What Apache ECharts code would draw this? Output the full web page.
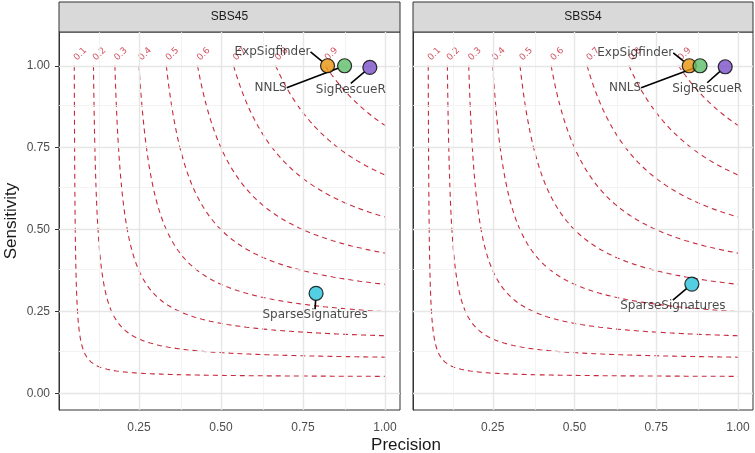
<!DOCTYPE html>
<html>
<head>
<meta charset="utf-8">
<script src="https://cdn.jsdelivr.net/npm/echarts@6/dist/echarts.min.js"></script>
<style>
  html, body { margin: 0; padding: 0; background: #fff; }
  #chart { width: 755px; height: 453px; }
</style>
</head>
<body>
<div id="chart"></div>
<script>
// data
var PANELS = ['SBS45', 'SBS54'];
var TOOLS = ['ExpSigfinder', 'NNLS', 'SigRescueR', 'SparseSignatures'];
var TOOL_COLORS = ['#E8920E', '#5DBE68', '#7B50C8', '#28C3D9'];
var PRECISION_SBS45 = [0.825, 0.877, 0.954, 0.790];
var SENSITIVITY_SBS45 = [1.000, 1.000, 0.995, 0.306];
var PRECISION_SBS54 = [0.851, 0.884, 0.961, 0.859];
var SENSITIVITY_SBS54 = [1.000, 1.000, 0.997, 0.334];
var F1_LEVELS = [0.1, 0.2, 0.3, 0.4, 0.5, 0.6, 0.7, 0.8, 0.9];
var X_BREAKS = [0.25, 0.50, 0.75, 1.00];
var X_MINOR = [0.125, 0.375, 0.625, 0.875];
var Y_BREAKS = [0.00, 0.25, 0.50, 0.75, 1.00];
var Y_MINOR = [0.125, 0.375, 0.625, 0.875];

// layout (pixels)
var GRIDS = [
    {left: 59, top: 32, width: 341, height: 378},
    {left: 413, top: 32, width: 340, height: 378}
];
// label offsets from the point, in px (ggrepel placement)
var LABEL_OFFSETS = [
    [[-55, -14], [-74, 22], [-19, 22], [-1, 22]],
    [[-54, -13], [-75, 22], [-18, 22], [-19, 22]]
];
var X_RANGE = [0.006, 1.046];
var Y_RANGE = [-0.05, 1.103];
var CURVE_COLOR = '#C62A3C';

var panelData = [
    {prec: PRECISION_SBS45, sens: SENSITIVITY_SBS45},
    {prec: PRECISION_SBS54, sens: SENSITIVITY_SBS54}
];

// iso-F1 line: F = 2PR/(P+R)  ->  R = F*P/(2P-F), from R=1 down to P=1
function isoF1(f){
    var pMin = f / (2 - f), pts = [], n = 300;
    for(var i = 0; i <= n; i++){
        var u = i / n;
        var p = pMin + (1 - pMin) * u * u * u;
        pts.push([p, f * p / (2 * p - f)]);
    }
    return pts;
}

function $each(arr, fn){ for(var i = 0; i < arr.length; i++){ fn(arr[i], i); } }

var chart = echarts.init(document.getElementById('chart'), null, {renderer: 'canvas'});

var xAxes = [], yAxes = [], series = [], graphics = [];

$each(GRIDS, function(g, pi){
    xAxes.push({
        type: 'value', gridIndex: pi, min: X_RANGE[0], max: X_RANGE[1],
        axisLine: {show: true, lineStyle: {color: '#333', width: 1}},
        axisTick: {show: true, length: 4, customValues: X_BREAKS, lineStyle: {color: '#333', width: 1}},
        axisLabel: {customValues: X_BREAKS, margin: 12, color: '#4D4D4D', fontSize: 12,
            fontFamily: 'Liberation Sans', formatter: function(v){ return v.toFixed(2); }},
        splitLine: {show: false}
    });
    yAxes.push({
        type: 'value', gridIndex: pi, min: Y_RANGE[0], max: Y_RANGE[1],
        name: pi === 0 ? 'Sensitivity' : '', nameLocation: 'middle', nameGap: 39,
        nameTextStyle: {fontSize: 17, color: '#1A1A1A', fontFamily: 'Liberation Sans'},
        axisLine: {show: true, lineStyle: {color: '#333', width: 1}},
        axisTick: {show: pi === 0, length: 4, customValues: Y_BREAKS, lineStyle: {color: '#333', width: 1}},
        axisLabel: {show: pi === 0, customValues: Y_BREAKS, margin: 9, color: '#4D4D4D', fontSize: 12,
            fontFamily: 'Liberation Sans', formatter: function(v){ return v.toFixed(2); }},
        splitLine: {show: false}
    });

    // grid lines
    var lines = [];
    X_MINOR.forEach(function(v){ lines.push({xAxis: v, lineStyle: {color: '#F0F0F0', width: 0.8, type: 'solid'}}); });
    Y_MINOR.forEach(function(v){ lines.push({yAxis: v, lineStyle: {color: '#F0F0F0', width: 0.8, type: 'solid'}}); });
    X_BREAKS.forEach(function(v){ lines.push({xAxis: v, lineStyle: {color: '#E6E6E6', width: 1.4, type: 'solid'}}); });
    Y_BREAKS.forEach(function(v){ lines.push({yAxis: v, lineStyle: {color: '#E6E6E6', width: 1.4, type: 'solid'}}); });
    series.push({
        type: 'line', xAxisIndex: pi, yAxisIndex: pi, data: [], z: 0, silent: true,
        markLine: {silent: true, symbol: ['none', 'none'], label: {show: false}, animation: false, data: lines}
    });

    // F1 contours
    F1_LEVELS.forEach(function(f){
        series.push({
            type: 'line', xAxisIndex: pi, yAxisIndex: pi, data: isoF1(f), z: 2,
            showSymbol: false, silent: true, animation: false,
            lineStyle: {color: CURVE_COLOR, width: 1.1, type: [5, 4]}
        });
    });
    series.push({
        type: 'scatter', xAxisIndex: pi, yAxisIndex: pi, symbolSize: 0, z: 3, silent: true,
        data: F1_LEVELS.map(function(f){ return [f / (2 - f), 1.02, f]; }),
        label: {show: true, position: 'right', distance: 1, rotate: 45,
            formatter: function(p){ return String(p.value[2]); },
            color: CURVE_COLOR, fontSize: 9, fontFamily: 'DejaVu Sans'}
    });

    // tool points
    var d = panelData[pi];
    series.push({
        type: 'scatter', xAxisIndex: pi, yAxisIndex: pi, z: 5, symbolSize: 14,
        data: TOOLS.map(function(t, i){
            return {value: [d.prec[i], d.sens[i]], name: t,
                itemStyle: {color: TOOL_COLORS[i], borderColor: '#000', borderWidth: 1.2}};
        }),
        label: {show: true, position: 'inside', formatter: '{b}', color: '#1A1A1A',
            fontSize: 12, fontFamily: 'DejaVu Sans'},
        labelLine: {show: true, lineStyle: {color: '#000', width: 1.6}},
        labelLayout: function(params){
            var o = LABEL_OFFSETS[pi][params.dataIndex];
            return {dx: o[0], dy: o[1]};
        }
    });

    // facet strip
    graphics.push({
        type: 'rect', shape: {x: g.left, y: 2, width: g.width, height: g.top - 2},
        style: {fill: '#D9D9D9', stroke: '#333', lineWidth: 1}
    });
    graphics.push({
        type: 'text', x: g.left + g.width / 2, y: (g.top + 2) / 2,
        style: {text: PANELS[pi], fill: '#1A1A1A', fontSize: 12, fontFamily: 'Liberation Sans',
            align: 'center', verticalAlign: 'middle'}
    });
});

graphics.push({
    type: 'text', x: (GRIDS[0].left + GRIDS[1].left + GRIDS[1].width) / 2, y: 445,
    style: {text: 'Precision', fill: '#1A1A1A', fontSize: 17, fontFamily: 'Liberation Sans',
        align: 'center', verticalAlign: 'middle'}
});

chart.setOption({
    backgroundColor: '#fff',
    animation: false,
    grid: GRIDS.map(function(g){
        return {left: g.left, top: g.top, width: g.width, height: g.height,
            show: true, backgroundColor: '#fff', borderColor: '#333', borderWidth: 1};
    }),
    xAxis: xAxes,
    yAxis: yAxes,
    series: series,
    graphic: graphics
});
</script>
</body>
</html>
